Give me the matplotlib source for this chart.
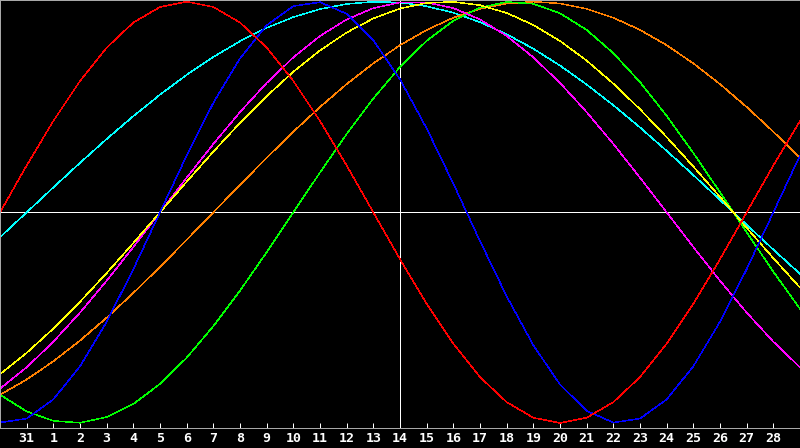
import matplotlib
matplotlib.use("Agg")
import matplotlib.pyplot as plt

# day index: -1 (30th of prev month) .. 29
days = list(range(-1, 30))
tick_days = list(range(0, 29))
tick_labels = ["31"] + [str(d) for d in range(1, 29)]

red = [0, 0.2225, 0.4339, 0.6235, 0.7818, 0.9010, 0.9749, 1.0, 0.9749, 0.9010,
       0.7818, 0.6235, 0.4339, 0.2225, 0, -0.2225, -0.4339, -0.6235, -0.7818, -0.9010,
       -0.9749, -1.0, -0.9749, -0.9010, -0.7818, -0.6235, -0.4339, -0.2225, 0, 0.2225, 0.4339]
blue = [-0.9977, -0.9791, -0.8879, -0.7308, -0.5196, -0.2698, 0, 0.2698, 0.5196, 0.7308,
        0.8879, 0.9791, 0.9977, 0.9423, 0.8170, 0.6311, 0.3984, 0.1362, -0.1362, -0.3984,
        -0.6311, -0.8170, -0.9423, -0.9977, -0.9791, -0.8879, -0.7308, -0.5196, -0.2698, 0, 0.2698]
green = [-0.8660, -0.9450, -0.9898, -0.9989, -0.9718, -0.9096, -0.8146, -0.6901, -0.5406, -0.3717,
         -0.1893, 0, 0.1893, 0.3717, 0.5406, 0.6901, 0.8146, 0.9096, 0.9718, 0.9989,
         0.9898, 0.9450, 0.8660, 0.7557, 0.6182, 0.4582, 0.2817, 0.0951, -0.0951, -0.2817, -0.4582]
magenta = [-0.8372, -0.7357, -0.6142, -0.4759, -0.3247, -0.1646, 0, 0.1646, 0.3247, 0.4759,
           0.6142, 0.7357, 0.8372, 0.9158, 0.9694, 0.9966, 0.9966, 0.9694, 0.9158, 0.8372,
           0.7357, 0.6142, 0.4759, 0.3247, 0.1646, 0, -0.1646, -0.3247, -0.4759, -0.6142, -0.7357]
yellow = [-0.7687, -0.6671, -0.5517, -0.4245, -0.2881, -0.1456, 0, 0.1456, 0.2881, 0.4245,
          0.5517, 0.6671, 0.7687, 0.8536, 0.9204, 0.9675, 0.9940, 0.9993, 0.9834, 0.9465,
          0.8894, 0.8136, 0.7204, 0.6111, 0.4894, 0.3572, 0.2175, 0.0730, -0.0730, -0.2175, -0.3572]
cyan = [-0.1183, 0, 0.1183, 0.2349, 0.3482, 0.4566, 0.5586, 0.6527, 0.7376, 0.8123,
        0.8757, 0.9267, 0.9647, 0.9890, 0.9996, 0.9961, 0.9785, 0.9473, 0.9028, 0.8457,
        0.7767, 0.6967, 0.6068, 0.5085, 0.4031, 0.2920, 0.1769, 0.0592, -0.0592, -0.1769, -0.2920]
orange = [-0.8660, -0.7934, -0.7071, -0.6088, -0.5, -0.3827, -0.2588, -0.1305, 0, 0.1305,
          0.2588, 0.3827, 0.5, 0.6088, 0.7071, 0.7934, 0.8660, 0.9239, 0.9659, 0.9914,
          1.0, 0.9914, 0.9659, 0.9239, 0.8660, 0.7934, 0.7071, 0.6088, 0.5, 0.3827, 0.2588]

series = [
    (cyan, "#00ffff"),
    (orange, "#ff8000"),
    (green, "#00ff00"),
    (magenta, "#ff00ff"),
    (yellow, "#ffff00"),
    (blue, "#0000ff"),
    (red, "#ff0000"),
]

today = 14

W, H = 800, 448
fig = plt.figure(figsize=(W / 100, H / 100), dpi=100, facecolor="black")
ax = fig.add_axes([0, (H - 428) / H, 1, 428 / H], facecolor="black")

ax.axhline(0, color="white", lw=0.5, zorder=1, antialiased=False)
ax.axvline(today, color="white", lw=0.5, zorder=1, antialiased=False)

for vals, col in series:
    ax.plot(days, vals, color=col, lw=0.35, antialiased=False, zorder=2)

ax.set_xlim(-1, 29)
ax.set_ylim(-1.0237, 1.008)

ax.set_xticks(tick_days)
ax.set_xticklabels(tick_labels, fontfamily="DejaVu Sans Mono", fontweight="bold",
                   fontsize=9.5, color="white")
ax.tick_params(axis="x", direction="in", length=3.6, width=0.72, color="white", pad=3.2)
ax.set_yticks([])

for s in ("left", "top", "bottom"):
    ax.spines[s].set_color("#a8a8a8")
    ax.spines[s].set_linewidth(0.72)
ax.spines["right"].set_visible(False)

fig.savefig("out.png", dpi=100, facecolor="black")
